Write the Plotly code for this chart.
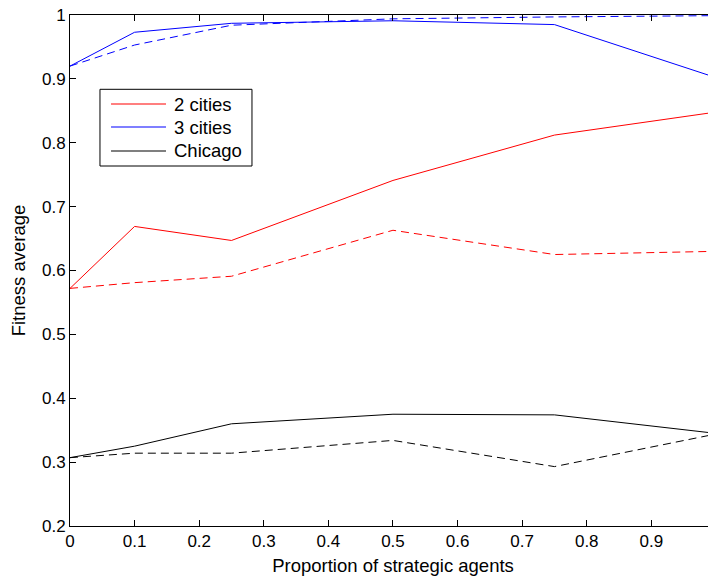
import plotly.graph_objects as go

x = [0, 0.1, 0.25, 0.5, 0.75, 1]

two_cities_solid = [0.572, 0.669, 0.647, 0.741, 0.812, 0.848]
two_cities_dash = [0.572, 0.581, 0.591, 0.663, 0.625, 0.630]
three_cities_solid = [0.920, 0.973, 0.987, 0.991, 0.985, 0.902]
three_cities_dash = [0.920, 0.953, 0.984, 0.994, 0.997, 0.999]
chicago_solid = [0.307, 0.325, 0.360, 0.375, 0.374, 0.345]
chicago_dash = [0.307, 0.314, 0.314, 0.334, 0.293, 0.344]

names = ["2 cities", "3 cities", "Chicago"]
colors = ["rgb(255,0,0)", "rgb(0,0,255)", "rgb(0,0,0)"]
solids = [two_cities_solid, three_cities_solid, chicago_solid]
dashes = [two_cities_dash, three_cities_dash, chicago_dash]

FONT = "Liberation Sans, Arial, Helvetica, sans-serif"
TXT = 18.5

fig = go.Figure()
for name, c, s in zip(names, colors, solids):
    fig.add_trace(go.Scatter(x=x, y=s, mode="lines", name=name,
                             line=dict(color=c, width=1)))
for name, c, d in zip(names, colors, dashes):
    fig.add_trace(go.Scatter(x=x, y=d, mode="lines", name=name + " (dashed)",
                             line=dict(color=c, width=1, dash="8px,5px")))

# manual legend (box, sample lines, labels) in paper coordinates
fig.add_shape(type="rect", xref="paper", yref="paper",
              x0=0.0464, x1=0.2817, y0=0.7045, y1=0.8546,
              line=dict(color="black", width=1), fillcolor="white", layer="above")
leg_y = [0.82583, 0.78082, 0.73386]
for name, c, yy in zip(names, colors, leg_y):
    fig.add_shape(type="line", xref="paper", yref="paper",
                  x0=0.0635, x1=0.1486, y0=yy, y1=yy,
                  line=dict(color=c, width=1.2), layer="above")
    fig.add_annotation(xref="paper", yref="paper", x=0.1579, y=yy,
                       xanchor="left", yanchor="middle", text=name,
                       showarrow=False,
                       font=dict(family=FONT, size=TXT, color="black"))

axis_common = dict(showline=True, linecolor="black", linewidth=1, mirror="ticks",
                   ticks="inside", ticklen=6, tickcolor="black", tickwidth=1,
                   showgrid=False, zeroline=False, automargin=False,
                   ticklabeloverflow="allow",
                   tickfont=dict(family=FONT, size=17, color="black"))

fig.update_layout(
    width=708, height=568,
    margin=dict(l=62, r=0, t=7, b=50),
    paper_bgcolor="white", plot_bgcolor="white",
    font=dict(family=FONT, size=17, color="black"),
    showlegend=False,
    xaxis=dict(range=[0, 1.0001], dtick=0.1, tick0=0,
               title=dict(text="Proportion of strategic agents", standoff=8,
                          font=dict(family=FONT, size=TXT, color="black")),
               **axis_common),
    yaxis=dict(range=[0.2, 1], dtick=0.1, tick0=0.2,
               title=dict(text="Fitness average", standoff=11,
                          font=dict(family=FONT, size=TXT, color="black")),
               **axis_common),
)

fig.write_html("out.html")
